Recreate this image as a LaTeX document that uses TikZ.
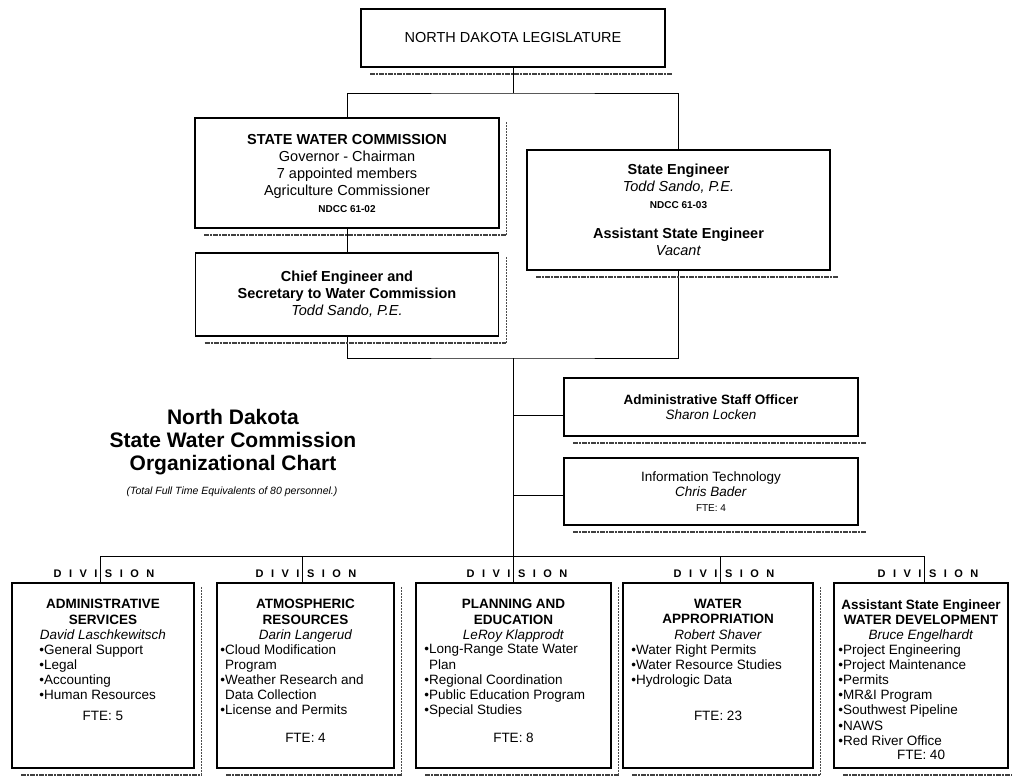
\documentclass[tikz,border=0pt]{standalone}
\usepackage{fontspec}
\setmainfont{Liberation Sans}
\usetikzlibrary{positioning}
\newcommand{\topfont}{\fontsize{14.5}{17}\selectfont}
\newcommand{\dvfont}{\fontsize{13.5}{15.2}\selectfont}
\newcommand{\ndccfont}{\fontsize{10}{12}\selectfont}
\newcommand{\tagfont}{\fontsize{11}{13}\selectfont\bfseries}
\newcommand{\titlefont}{\fontsize{21}{23}\selectfont\bfseries}
\newcommand{\subfont}{\fontsize{10.5}{12}\selectfont\itshape}
\newcommand{\divtag}{D\hskip7.5pt I\hskip7.5pt V\hskip7.5pt I\hskip7.5pt S\hskip7.5pt I\hskip7.5pt O\hskip7.5pt N}
\begin{document}
\begin{tikzpicture}[x=1pt,y=-1pt,
  box/.style={draw,line width=1.6pt,inner sep=0pt,align=center},
  topbox/.style={box,font=\topfont},
  midbox/.style={box,font=\dvfont,minimum width=294pt},
  divbox/.style={box,minimum width=#1,minimum height=185pt},
  hdr/.style={anchor=north,align=center,inner sep=0pt,font=\dvfont},
  items/.style={anchor=north west,align=left,inner sep=0pt,font=\dvfont},
  fte/.style={inner sep=0pt,font=\dvfont},
  tag/.style={inner sep=0pt,font=\tagfont},
  conn/.style={line width=0.9pt},
  shadowb/.style={line width=2pt,black!75,dash pattern=on 5pt off 1pt on 2pt off 1pt},
  shadowr/.style={line width=1.2pt,black!70,dash pattern=on 1.5pt off 1.5pt}
]
\useasboundingbox (0,0) rectangle (1012,782);
\def\xa{100}\def\xb{302}\def\xc{513}\def\xd{720}\def\xe{924}
\node[topbox,minimum width=304pt,minimum height=58pt] (leg) at (513,38) {NORTH DAKOTA LEGISLATURE};
\node[topbox,minimum width=304pt,minimum height=110pt] (swc) at (347,173)
  {\textbf{STATE WATER COMMISSION}\\Governor - Chairman\\7 appointed members\\Agriculture Commissioner\\{\ndccfont\textbf{NDCC 61-02}}};
\node[topbox,minimum width=303pt,minimum height=120pt] (se) at (678.5,210)
  {\textbf{State Engineer}\\\textit{Todd Sando, P.E.}\\{\ndccfont\textbf{NDCC 61-03}}\\[13pt]\textbf{Assistant State Engineer}\\\textit{Vacant}};
\node[topbox,minimum width=303pt,minimum height=83pt] (chief) at (347,294.5)
  {\textbf{Chief Engineer and}\\\textbf{Secretary to Water Commission}\\\textit{Todd Sando, P.E.}};
\node[midbox,minimum height=58pt] (adm) at (711,407) {\textbf{Administrative Staff Officer}\\\textit{Sharon Locken}};
\node[midbox,minimum height=67pt] (it) at (711,491.5) {Information Technology\\\textit{Chris Bader}\\{\ndccfont FTE: 4}};
\node[align=center,font=\titlefont] (title) at (233,442) {North Dakota\\State Water Commission\\Organizational Chart};
\node[font=\subfont] (sub) at (232,492) {(Total Full Time Equivalents of 80 personnel.)};
\coordinate (jt) at (513,93);
\coordinate (jc) at (513,358);
\foreach \i/\x in {1/\xa,2/\xb,3/\xc,4/\xd,5/\xe}{
  \coordinate (b\i) at (\x,556);
  \node[tag] (t\i) at (\x+4,574) {\divtag};
}
\node[divbox=182pt] (d1) at (103,675.5) {};
\node[divbox=177pt] (d2) at (305.5,675.5) {};
\node[divbox=195pt] (d3) at (513.5,675.5) {};
\node[divbox=190pt] (d4) at (718,675.5) {};
\node[divbox=174pt] (d5) at (921,675.5) {};
\node[hdr] (h1) at ([yshift=-17pt]d1.north) {\textbf{ADMINISTRATIVE}\\\textbf{SERVICES}\\\textit{David Laschkewitsch}};
\node[hdr] (h2) at ([yshift=-17pt]d2.north) {\textbf{ATMOSPHERIC}\\\textbf{RESOURCES}\\\textit{Darin Langerud}};
\node[hdr] (h3) at ([yshift=-17pt]d3.north) {\textbf{PLANNING AND}\\\textbf{EDUCATION}\\\textit{LeRoy Klapprodt}};
\node[hdr] (h4) at ([yshift=-17pt]d4.north) {\textbf{WATER}\\\textbf{APPROPRIATION}\\\textit{Robert Shaver}};
\node[hdr] (h5) at ([yshift=-17pt]d5.north) {\textbf{Assistant State Engineer}\\\textbf{WATER DEVELOPMENT}\\\textit{Bruce Engelhardt}};
\node[items] (l1) at ([xshift=28pt,yshift=-62pt]d1.north west) {•General Support\\•Legal\\•Accounting\\•Human Resources};
\node[items] (l2) at ([xshift=4pt,yshift=-62pt]d2.north west) {•Cloud Modification\\\phantom{•}Program\\•Weather Research and\\\phantom{•}Data Collection\\•License and Permits};
\node[items] (l3) at ([xshift=9pt,yshift=-62pt]d3.north west) {•Long-Range State Water\\\phantom{•}Plan\\•Regional Coordination\\•Public Education Program\\•Special Studies};
\node[items] (l4) at ([xshift=9pt,yshift=-62pt]d4.north west) {•Water Right Permits\\•Water Resource Studies\\•Hydrologic Data};
\node[items] (l5) at ([xshift=5pt,yshift=-62pt]d5.north west) {•Project Engineering\\•Project Maintenance\\•Permits\\•MR\&I Program\\•Southwest Pipeline\\•NAWS\\•Red River Office};
\node[fte] (f1) at ([yshift=53pt]d1.south) {FTE: 5};
\node[fte] (f2) at ([yshift=31pt]d2.south) {FTE: 4};
\node[fte] (f3) at ([yshift=31pt]d3.south) {FTE: 8};
\node[fte] (f4) at ([yshift=53pt]d4.south) {FTE: 23};
\node[fte] (f5) at ([yshift=14pt]d5.south) {FTE: 40};
\draw[conn] (leg.south) -- (jt);
\draw[conn] (swc.north) |- (jt) -| (se.north);
\draw[conn] (swc.south) -- (chief.north);
\draw[conn] (chief.south) |- (jc) -| (se.south);
\draw[conn] (jc) -- (b3);
\draw[conn] ([yshift=-8pt]adm.west) -- ([yshift=-8pt]adm.west -| jc);
\draw[conn] ([yshift=-4pt]it.west) -- ([yshift=-4pt]it.west -| jc);
\draw[conn] (b1) -- (b5);
\foreach \i in {1,...,5}
  \draw[conn] (b\i) -- (b\i |- d\i.north);
\foreach \n in {leg,swc,se,chief,adm,it,d1,d2,d3,d4,d5}
  \draw[shadowb] ([xshift=10pt,yshift=-6pt]\n.south west) -- ([xshift=7pt,yshift=-6pt]\n.south east);
\foreach \n in {swc,chief,d1,d2,d3,d4,d5}
  \draw[shadowr] ([xshift=7pt,yshift=-5pt]\n.north east) -- ([xshift=7pt,yshift=-6pt]\n.south east);
\end{tikzpicture}
\end{document}
